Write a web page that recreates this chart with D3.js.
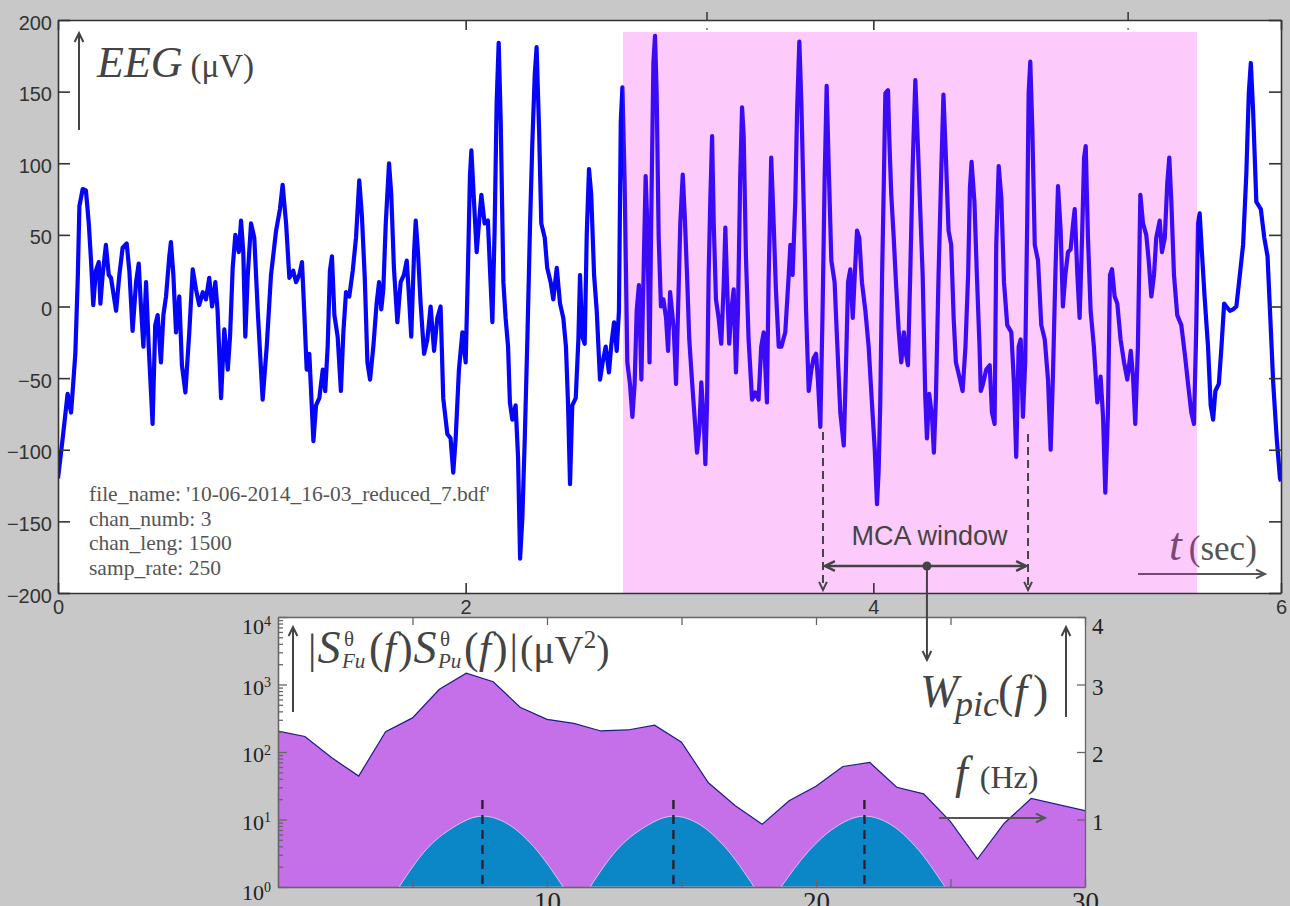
<!DOCTYPE html>
<html>
<head>
<meta charset="utf-8">
<script src="https://cdn.jsdelivr.net/npm/d3@7"></script>
<style>
  html, body { margin: 0; padding: 0; background: #c8c8c8; }
  svg { display: block; }
</style>
</head>
<body>
<svg id="fig" width="1290" height="906"></svg>
<script>
// EEG trace: time (sec) and amplitude (µV)
const eegT = [0.000,0.023,0.047,0.064,0.072,0.085,0.097,0.105,0.121,0.137,0.151,0.162,0.173,0.186,0.200,0.208,0.219,0.235,0.249,0.260,
  0.285,0.301,0.317,0.337,0.350,0.366,0.383,0.396,0.407,0.419,0.432,0.445,0.464,0.477,0.489,0.505,0.517,0.530,0.546,0.554,
  0.566,0.579,0.595,0.608,0.625,0.644,0.661,0.677,0.693,0.710,0.726,0.742,0.756,0.772,0.783,0.800,0.816,0.833,0.844,0.857,
  0.870,0.887,0.898,0.909,0.919,0.931,0.947,0.963,0.980,1.004,1.024,1.045,1.070,1.089,1.102,1.119,1.135,1.154,1.168,1.184,
  1.197,1.208,1.220,1.233,1.253,1.266,1.282,1.299,1.311,1.323,1.334,1.344,1.356,1.372,1.388,1.400,1.413,1.429,1.446,1.462,
  1.478,1.491,1.505,1.518,1.531,1.547,1.563,1.575,1.586,1.596,1.608,1.624,1.635,1.648,1.665,1.681,1.697,1.711,1.722,1.733,
  1.747,1.755,1.766,1.779,1.796,1.812,1.828,1.845,1.861,1.877,1.890,1.910,1.926,1.939,1.951,1.967,1.984,2.000,2.011,2.021,
  2.028,2.041,2.054,2.065,2.077,2.093,2.109,2.119,2.131,2.142,2.152,2.162,2.172,2.185,2.196,2.208,2.217,2.229,2.245,2.257,
  2.267,2.278,2.290,2.303,2.316,2.327,2.339,2.348,2.360,2.371,2.388,2.400,2.417,2.430,2.447,2.463,2.479,2.492,2.502,2.512,
  2.523,2.540,2.553,2.561,2.572,2.584,2.594,2.605,2.616,2.630,2.643,2.659,2.672,2.687,2.703,2.715,2.728,2.741,2.752,2.761,
  2.769,2.780,2.793,2.806,2.818,2.829,2.839,2.850,2.862,2.875,2.883,2.891,2.902,2.911,2.921,2.929,2.937,2.947,2.958,2.970,
  2.983,2.993,3.003,3.021,3.032,3.042,3.053,3.065,3.075,3.086,3.097,3.110,3.124,3.135,3.146,3.156,3.168,3.176,3.184,3.192,
  3.200,3.209,3.217,3.228,3.241,3.254,3.266,3.274,3.282,3.293,3.303,3.315,3.326,3.336,3.347,3.356,3.364,3.375,3.388,3.405,
  3.421,3.437,3.450,3.462,3.478,3.486,3.499,3.511,3.522,3.536,3.549,3.568,3.585,3.593,3.604,3.617,3.626,3.637,3.647,3.658,
  3.670,3.683,3.696,3.707,3.719,3.728,3.740,3.751,3.761,3.771,3.781,3.794,3.810,3.822,3.838,3.855,3.866,3.876,3.887,3.899,
  3.909,3.920,3.931,3.944,3.961,3.977,3.993,4.007,4.018,4.026,4.034,4.043,4.051,4.059,4.072,4.079,4.088,4.100,4.111,4.124,
  4.137,4.150,4.160,4.170,4.181,4.193,4.206,4.219,4.230,4.242,4.255,4.263,4.274,4.288,4.297,4.307,4.320,4.333,4.344,4.356,
  4.369,4.382,4.394,4.405,4.422,4.438,4.452,4.465,4.474,4.482,4.496,4.508,4.521,4.527,4.538,4.554,4.571,4.582,4.595,4.603,
  4.615,4.628,4.641,4.657,4.677,4.690,4.701,4.713,4.723,4.734,4.745,4.755,4.762,4.770,4.780,4.792,4.808,4.824,4.841,4.857,
  4.870,4.881,4.893,4.906,4.919,4.930,4.942,4.955,4.968,4.980,4.988,5.001,5.012,5.024,5.034,5.042,5.053,5.066,5.082,5.099,
  5.115,5.127,5.138,5.151,5.161,5.171,5.184,5.197,5.213,5.230,5.246,5.263,5.274,5.285,5.298,5.310,5.323,5.339,5.351,5.364,
  5.377,5.388,5.405,5.416,5.430,5.442,5.452,5.462,5.475,5.491,5.511,5.528,5.544,5.560,5.573,5.584,5.593,5.601,5.612,5.625,
  5.642,5.655,5.667,5.678,5.695,5.708,5.721,5.732,5.749,5.765,5.781,5.798,5.814,5.830,5.842,5.852,5.863,5.879,5.901,5.918,
  5.934,5.946,5.962,5.979,5.995,6.000];
const eegV = [-120,-92,-61,-74,-59,-33,20,70,82,81,58,32,1,25,31,2,22,43,22,20,
  -3,22,41,44,25,-17,17,30,0,-28,17,-28,-82,-13,-6,-39,-6,7,35,45,
  22,-18,7,-41,-60,-18,26,12,1,10,5,20,0,17,-3,-64,-16,-44,-21,27,
  50,38,60,38,-21,22,58,48,-3,-65,-28,22,53,68,85,58,20,25,17,22,
  31,-3,-44,-33,-94,-69,-64,-44,-59,-28,25,35,-6,-21,-59,-18,10,7,25,48,
  88,63,20,-39,-51,-28,2,17,-2,12,58,100,78,27,-11,17,22,32,7,-21,
  38,60,38,2,-33,-23,0,-31,-8,0,-64,-89,-92,-116,-92,-44,-18,-39,25,91,
  109,73,38,58,78,58,60,27,-11,53,142,184,129,17,-8,-28,-67,-79,-69,-105,
  -176,-148,-92,-21,58,114,162,181,124,58,48,27,17,5,27,2,-8,-28,-67,-124,
  -69,-64,-23,22,-21,-26,50,96,78,22,-3,-51,-39,-28,-46,-26,-11,-31,-3,129,
  153,86,-39,-54,-77,-54,-3,15,-51,38,91,58,-39,68,170,189,149,48,0,5,
  -8,-31,10,-16,-54,-3,58,92,63,22,-23,-51,-79,-102,-87,-53,-79,-110,-69,22,
  73,119,58,5,-8,-26,15,55,17,-26,-3,12,-46,-3,91,139,119,35,-23,-65,
  -60,-65,-28,-18,-67,17,104,58,12,-28,-28,-18,22,43,22,73,137,185,142,73,
  -3,-59,-44,-36,-33,-51,-84,-3,88,154,98,32,17,-23,-74,-97,-41,17,26,-8,
  22,53,48,17,-3,-28,-67,-100,-138,-115,-67,22,83,149,151,114,78,48,17,-16,
  -39,-18,-33,-41,22,98,158,111,68,22,-64,-92,-61,-77,-102,-64,22,93,148,104,
  53,43,-8,-39,-49,-59,-28,22,83,101,73,22,-28,-59,-54,-44,-41,-74,-82,43,
  98,76,17,-13,-18,-54,-105,-28,-23,-77,-39,60,149,171,124,43,32,-13,-23,-51,
  -100,-49,22,84,53,0,22,38,40,58,68,22,-8,48,104,112,48,-3,-28,-67,
  -49,-77,-130,-74,22,26,7,2,-23,-39,-51,-31,-49,-82,-28,78,58,50,32,7,
  22,48,60,38,48,86,104,73,22,-6,-13,-33,-54,-74,-82,-16,58,65,38,7,
  -28,-69,-79,-59,-54,-28,2,0,-3,-2,0,22,43,93,149,170,137,73,68,48,
  35,-3,-54,-92,-120,-122];

const eegTicksX = [0, 2, 4, 6];
const eegTicksY = [-200, -150, -100, -50, 0, 50, 100, 150, 200];
const highlightT = [2.772, 5.588];     // pink band (sec)
const highlightTop = 191.6;            // µV
const mcaT = [3.753, 4.759];           // MCA window (sec)
const mcaCentre = 4.263;
const strayTopTicks = [3.184, 5.25];
const infoLines = ["file_name: '10-06-2014_16-03_reduced_7.bdf'", "chan_numb: 3", "chan_leng: 1500", "samp_rate: 250"];

// spectrum |S_Fu S_Pu| (µV^2), log axis, against f (Hz)
const specF = [0, 1, 2, 3, 4, 5, 6, 7, 8, 9, 10, 11, 12, 13, 14, 15, 16, 17, 18, 19, 20, 21, 22, 23, 24, 25, 26, 27, 28, 30];
const specS = [204, 170, 82, 44, 200, 320, 850, 1470, 1100, 460, 305, 265, 205, 212, 250, 140, 35, 16, 8.5, 19, 31, 61, 70, 30, 24, 9.3, 2.6, 8.8, 20.5, 13.5];
// W_pic(f) bumps, linear right axis
const bumpF = [
  [4.5, 5.5, 6.5, 7.6, 8.6, 9.5, 10.6],
  [11.6, 12.6, 13.6, 14.7, 15.7, 16.6, 17.7],
  [18.7, 19.7, 20.7, 21.8, 22.8, 23.7, 24.8]
];
const bumpW = [
  [0, 0.55, 0.88, 1.05, 0.92, 0.6, 0],
  [0, 0.55, 0.88, 1.05, 0.92, 0.6, 0],
  [0, 0.52, 0.88, 1.05, 0.92, 0.6, 0]
];
const peakF = [7.6, 14.7, 21.8];
const specTicksF = [5, 10, 15, 20, 25, 30];
const specDecades = [1, 10, 100, 1000, 10000];
const wTicks = [1, 2, 3, 4];

const SANS = '"Liberation Sans", Arial, sans-serif';
const SERIF = '"Liberation Serif", "Times New Roman", serif';
const INK = "#444";

const svg = d3.select("#fig");
const defs = svg.append("defs");

// draws a line with an open V head at the end
function arrow(g, x1, y1, x2, y2, o = {}) {
  const col = o.color || INK, w = o.width || 2, h = o.head || 9;
  g.append("line").attr("x1", x1).attr("y1", y1).attr("x2", x2).attr("y2", y2)
    .attr("stroke", col).attr("stroke-width", w).attr("stroke-dasharray", o.dash || null);
  const a = Math.atan2(y2 - y1, x2 - x1), s = 0.45;
  const p1 = [x2 - h * Math.cos(a - s), y2 - h * Math.sin(a - s)];
  const p2 = [x2 - h * Math.cos(a + s), y2 - h * Math.sin(a + s)];
  g.append("path").attr("d", `M${p1}L${x2},${y2}L${p2}`)
    .attr("fill", "none").attr("stroke", col).attr("stroke-width", w);
}

function styleAxis(g, col, w) {
  g.select(".domain").attr("stroke", col).attr("stroke-width", w);
  g.selectAll(".tick line").attr("stroke", col).attr("stroke-width", w);
}

// ================= top panel: EEG =================
const X0 = 58, X1 = 1281, Y0 = 20, Y1 = 593;
const x = d3.scaleLinear().domain([0, 6]).range([X0, X1]);
const y = d3.scaleLinear().domain([-200, 200]).range([Y1, Y0]);

svg.append("rect").attr("x", X0).attr("y", Y0).attr("width", X1 - X0).attr("height", Y1 - Y0).attr("fill", "#fff");
defs.append("clipPath").attr("id", "clipTop").append("rect")
  .attr("x", X0).attr("y", Y0).attr("width", X1 - X0).attr("height", Y1 - Y0);

const topG = svg.append("g");

// y label
arrow(topG, 79, 130, 79, 33, { width: 2, head: 10 });
const eegLbl = topG.append("text").attr("x", 97).attr("y", 77).attr("fill", INK).attr("font-family", SERIF);
eegLbl.append("tspan").attr("font-size", 44).attr("font-style", "italic").text("EEG");
eegLbl.append("tspan").attr("font-size", 33).attr("dx", 8).text("(\u03BCV)");

// file info
topG.append("g").selectAll("text").data(infoLines).join("text")
  .attr("x", 89).attr("y", (d, i) => 501 + i * 24.7)
  .attr("font-family", SERIF).attr("font-size", 21.5).attr("fill", "#555")
  .text(d => d);

// trace
const eeg = eegT.map((t, i) => ({ t, v: eegV[i] }));
topG.append("path").datum(eeg)
  .attr("clip-path", "url(#clipTop)")
  .attr("d", d3.line().x(d => x(d.t)).y(d => y(d.v)))
  .attr("fill", "none").attr("stroke", "#0505f8").attr("stroke-width", 4.2)
  .attr("stroke-linejoin", "round");

// t (sec) label, sits under the pink band
const tLbl = topG.append("text").attr("x", 1169).attr("y", 560).attr("fill", "#555").attr("font-family", SERIF);
tLbl.append("tspan").attr("font-size", 46).attr("font-style", "italic").text("t");
tLbl.append("tspan").attr("font-size", 35).attr("dx", 7).text("(sec)");
arrow(topG, 1138, 574, 1265, 574, { width: 2, head: 10, color: "#555" });

// pink band, translucent on top of the trace
topG.append("rect")
  .attr("x", x(highlightT[0])).attr("y", y(highlightTop))
  .attr("width", x(highlightT[1]) - x(highlightT[0])).attr("height", Y1 - y(highlightTop))
  .attr("fill", "#f41ef4").attr("opacity", 0.23);

// MCA window annotation
const mca = svg.append("g");
const mL = x(mcaT[0]), mR = x(mcaT[1]), mC = x(mcaCentre), mY = 566;
arrow(mca, mL, 432, mL, 590, { dash: "8,5", width: 2, head: 9 });
arrow(mca, mR, 434, mR, 590, { dash: "8,5", width: 2, head: 9 });
arrow(mca, mC, mY, mL + 2, mY, { width: 2.5, head: 11 });
arrow(mca, mC, mY, mR - 2, mY, { width: 2.5, head: 11 });
mca.append("circle").attr("cx", mC).attr("cy", mY).attr("r", 4.5).attr("fill", INK);
mca.append("text").attr("x", (mL + mR) / 2 + 4).attr("y", 545).attr("text-anchor", "middle")
  .attr("font-family", SANS).attr("font-size", 27).attr("fill", INK).text("MCA window");

// axes of top panel
const tColor = "#333";
const axL = svg.append("g").attr("transform", `translate(${X0},0)`)
  .call(d3.axisLeft(y).tickValues(eegTicksY).tickSizeInner(-12).tickSizeOuter(0).tickPadding(6).tickFormat(d3.format("d")));
const axR = svg.append("g").attr("transform", `translate(${X1},0)`)
  .call(d3.axisRight(y).tickValues(eegTicksY).tickSizeInner(-12).tickSizeOuter(0).tickFormat(""));
const axB = svg.append("g").attr("transform", `translate(0,${Y1})`)
  .call(d3.axisBottom(x).tickValues(eegTicksX).tickSizeInner(-10).tickSizeOuter(0).tickPadding(6).tickFormat(d3.format("d")));
const axT = svg.append("g").attr("transform", `translate(0,${Y0})`)
  .call(d3.axisTop(x).tickValues(eegTicksX).tickSizeInner(-10).tickSizeOuter(0).tickFormat(""));
[axL, axR, axB, axT].forEach(g => {
  styleAxis(g, tColor, 1.6);
  g.selectAll("text").attr("font-family", SANS).attr("font-size", 20).attr("fill", "#333");
});
axL.selectAll(".tick text").attr("dy", "0.45em");
axB.selectAll(".tick text").attr("dy", "0.75em");

// stray marks above the top border
const stray = svg.append("g");
strayTopTicks.forEach(t => {
  stray.append("line").attr("x1", x(t)).attr("x2", x(t)).attr("y1", 12).attr("y2", 21)
    .attr("stroke", tColor).attr("stroke-width", 1.5);
  stray.append("circle").attr("cx", x(t)).attr("cy", 29).attr("r", 1).attr("fill", "#666");
});

// ================= bottom panel: spectrum =================
const BX0 = 278, BX1 = 1085, BY0 = 617, BY1 = 887;
const fx = d3.scaleLinear().domain([0, 30]).range([BX0, BX1]);
const sy = d3.scaleLog().domain([1, 1e4]).range([BY1, BY0]);
const wy = d3.scaleLinear().domain([0, 4]).range([BY1, BY0]);

svg.append("rect").attr("x", BX0).attr("y", BY0).attr("width", BX1 - BX0).attr("height", BY1 - BY0).attr("fill", "#fff");
defs.append("clipPath").attr("id", "clipBot").append("rect")
  .attr("x", BX0).attr("y", BY0).attr("width", BX1 - BX0).attr("height", BY1 - BY0);

const bot = svg.append("g").attr("clip-path", "url(#clipBot)");
const spec = specF.map((f, i) => ({ f, s: specS[i] }));
bot.append("path").datum(spec)
  .attr("d", d3.area().x(d => fx(d.f)).y0(BY1).y1(d => sy(d.s)))
  .attr("fill", "#c570e8");
bot.append("path").datum(spec)
  .attr("d", d3.line().x(d => fx(d.f)).y(d => sy(d.s)))
  .attr("fill", "none").attr("stroke", "#1c1c8a").attr("stroke-width", 1.2);

bumpF.forEach((fs, k) => {
  const pts = fs.map((f, i) => ({ f, w: bumpW[k][i] }));
  bot.append("path").datum(pts)
    .attr("d", d3.area().curve(d3.curveMonotoneX).x(d => fx(d.f)).y0(wy(0)).y1(d => wy(d.w)))
    .attr("fill", "#0b87c8").attr("stroke", "#e6d8f6").attr("stroke-width", 0.8);
});
bot.selectAll(".peak").data(peakF).join("line")
  .attr("x1", d => fx(d)).attr("x2", d => fx(d))
  .attr("y1", wy(1.29)).attr("y2", wy(0))
  .attr("stroke", "#2a1f33").attr("stroke-width", 2.4).attr("stroke-dasharray", "9,6");

// axes of bottom panel
const bColor = "#666";
const minorS = [];
specDecades.slice(0, -1).forEach(d => { for (let m = 2; m <= 9; m++) minorS.push(d * m); });
const bL = svg.append("g").attr("transform", `translate(${BX0},0)`)
  .call(d3.axisLeft(sy).tickValues(specDecades).tickSizeInner(-9).tickSizeOuter(0).tickPadding(7));
const bLm = svg.append("g").attr("transform", `translate(${BX0},0)`)
  .call(d3.axisLeft(sy).tickValues(minorS).tickSizeInner(-5).tickSizeOuter(0).tickFormat(""));
const bR = svg.append("g").attr("transform", `translate(${BX1},0)`)
  .call(d3.axisRight(wy).tickValues(wTicks).tickSizeInner(-8).tickSizeOuter(0).tickPadding(7).tickFormat(d3.format("d")));
const bB = svg.append("g").attr("transform", `translate(0,${BY1})`)
  .call(d3.axisBottom(fx).tickValues(specTicksF).tickSizeInner(-8).tickSizeOuter(0).tickPadding(5)
    .tickFormat(d => d % 10 === 0 ? d : ""));
const bT = svg.append("g").attr("transform", `translate(0,${BY0})`)
  .call(d3.axisTop(fx).tickValues(specTicksF).tickSizeInner(-8).tickSizeOuter(0).tickFormat(""));
[bL, bLm, bR, bB, bT].forEach(g => {
  styleAxis(g, bColor, 1.3);
  g.selectAll("text").attr("font-family", SERIF).attr("fill", "#222");
});
bL.selectAll(".tick text").attr("font-size", 22)
  .attr("dy", d => d === 1e4 ? "0.75em" : (d === 1 ? "0.55em" : "0.45em"))
  .each(function (d) {
    const t = d3.select(this).text(null);
    t.append("tspan").text("10");
    t.append("tspan").attr("font-size", 14).attr("dy", "-0.55em").text(Math.round(Math.log10(d)));
  });
bR.selectAll(".tick text").attr("font-size", 23)
  .attr("dy", d => d === 4 ? "0.72em" : "0.42em");
bB.selectAll(".tick text").attr("font-size", 27).attr("dy", "0.71em");

// bottom panel labels
const lab = svg.append("g").attr("fill", INK).attr("font-family", SERIF);
arrow(lab, 293, 712, 293, 627, { width: 2, head: 10 });
function put(px, py, size, parts) {
  const t = lab.append("text").attr("x", px).attr("y", py).attr("font-size", size);
  parts.forEach(p => {
    t.append("tspan").attr("font-style", p.i ? "italic" : null)
      .attr("font-size", p.s || null).attr("dx", p.dx || null).attr("dy", p.dy || null).text(p.t);
  });
  return t;
}
// |S^θ_Fu(f) S^θ_Pu(f)|(µV²)
put(308, 663, 44, [{ t: "|", s: 42 }, { t: "S", i: true, s: 46, dx: 1 }]);
put(344, 646, 21, [{ t: "\u03B8" }]);
put(342, 668, 21, [{ t: "Fu", i: true }]);
put(369, 663, 44, [{ t: "(" }, { t: "f", i: true }, { t: ")", dx: 2 }, { t: "S", i: true, s: 46, dx: 1 }]);
put(440, 646, 21, [{ t: "\u03B8" }]);
put(438, 668, 21, [{ t: "Pu", i: true }]);
put(464, 663, 44, [{ t: "(" }, { t: "f", i: true }, { t: ")", dx: 2 }, { t: "|", s: 42, dx: 2 },
  { t: "(\u03BCV", s: 40, dx: 2 }, { t: "2", s: 25, dy: -15 }, { t: ")", s: 40, dy: 15 }]);

// W_pic(f)
put(920, 707, 46, [{ t: "W", i: true }]);
put(955, 716, 36, [{ t: "pic", i: true }]);
put(998, 707, 46, [{ t: "(" }, { t: "f", i: true, dx: 1 }, { t: ")", dx: 6 }]);
arrow(lab, 1066, 717, 1066, 627, { width: 2, head: 10 });

// f (Hz)
put(955, 788, 46, [{ t: "f", i: true }, { t: "(Hz)", s: 32, dx: 12 }]);
arrow(lab, 939, 818, 1045, 818, { width: 2, head: 10, color: "#555" });

// connector from the MCA window down to the spectrum
arrow(svg, mC, mY, mC, 660, { width: 2, head: 10 });
</script>
</body>
</html>
